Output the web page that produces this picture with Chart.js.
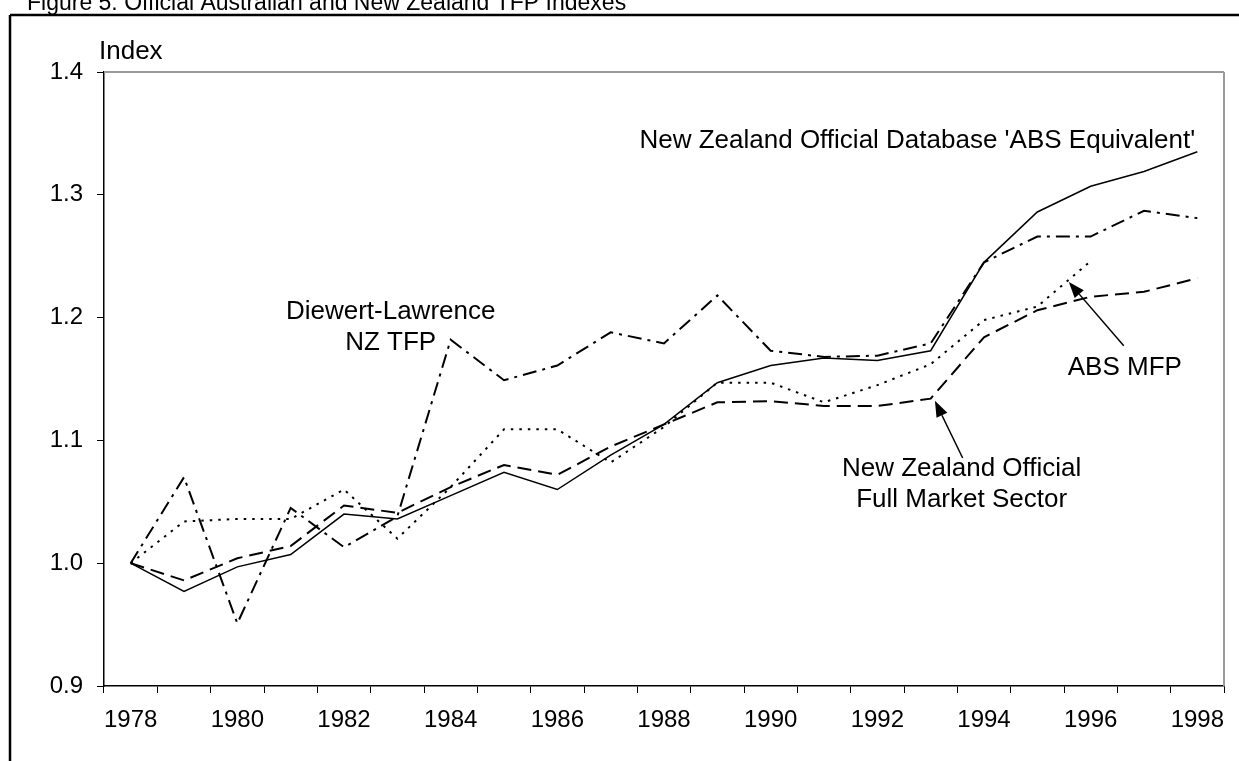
<!DOCTYPE html>
<html>
<head>
<meta charset="utf-8">
<script src="https://cdn.jsdelivr.net/npm/chart.js@4"></script>
<style>
  html, body { margin: 0; padding: 0; background: #fff; }
  canvas { display: block; }
</style>
</head>
<body>
<canvas id="tfpChart" width="1239" height="761"></canvas>
<script>
// years on the x axis
var years = ["1978", "1979", "1980", "1981", "1982", "1983", "1984", "1985", "1986", "1987", "1988",
             "1989", "1990", "1991", "1992", "1993", "1994", "1995", "1996", "1997", "1998"];

// New Zealand Official Database 'ABS Equivalent' (solid)
var nzAbsEquiv = [1.000, 0.977, 0.997, 1.007, 1.040, 1.036, 1.055, 1.074, 1.060, 1.088, 1.113,
                  1.147, 1.161, 1.167, 1.165, 1.173, 1.245, 1.286, 1.307, 1.319, 1.335];

// Diewert-Lawrence NZ TFP (dash-dot)
var dlNzTfp = [1.000, 1.070, 0.951, 1.045, 1.013, 1.038, 1.182, 1.149, 1.161, 1.188, 1.179,
               1.218, 1.173, 1.168, 1.169, 1.179, 1.245, 1.266, 1.266, 1.287, 1.281];

// ABS MFP (dotted, stops at 1996)
var absMfp = [1.000, 1.034, 1.036, 1.036, 1.060, 1.020, 1.062, 1.109, 1.109, 1.082, 1.111,
              1.147, 1.147, 1.131, 1.145, 1.162, 1.198, 1.209, 1.246, null, null];

// New Zealand Official Full Market Sector (dashed)
var nzFullMarket = [1.000, 0.986, 1.004, 1.014, 1.047, 1.041, 1.062, 1.080, 1.072, 1.095, 1.113,
                    1.131, 1.132, 1.128, 1.128, 1.134, 1.184, 1.206, 1.217, 1.221, 1.232];

var yTicks = [0.9, 1.0, 1.1, 1.2, 1.3, 1.4];

var FONT = '"Liberation Sans", Arial, sans-serif';

// text labels, anchored in data space (category index, value) at the first line's centre
var notes = [
    { lines: ["New Zealand Official Database 'ABS Equivalent'"], x: 14.75, y: 1.344 },
    { lines: ["Diewert-Lawrence", "NZ TFP"], x: 4.875, y: 1.205 },
    { lines: ["ABS MFP"], x: 18.64, y: 1.159 },
    { lines: ["New Zealand Official", "Full Market Sector"], x: 15.58, y: 1.0767 }
];
var arrows = [
    { from: [18.62, 1.177], to: [17.59, 1.229] },
    { from: [15.60, 1.0857], to: [15.08, 1.1322] }
];

function line(ctx, x1, y1, x2, y2) {
    ctx.beginPath();
    ctx.moveTo(x1, y1);
    ctx.lineTo(x2, y2);
    ctx.stroke();
}

var decorations = {
    id: 'decorations',
    afterDraw: function (chart) {
        var ctx = chart.ctx;
        var area = chart.chartArea;
        var xs = chart.scales.x, ys = chart.scales.y;
        ctx.save();

        // plot area border (top + right), grey
        ctx.strokeStyle = '#9a9a9a';
        ctx.lineWidth = 2;
        line(ctx, area.left, area.top, area.right, area.top);
        line(ctx, area.right, area.top, area.right, area.bottom);

        // outer frame
        ctx.strokeStyle = '#000';
        ctx.lineWidth = 2.5;
        line(ctx, 10, 15, chart.width + 5, 15);
        line(ctx, 10, 15, 10, chart.height + 5);

        // title (cut at top like the original)
        ctx.fillStyle = '#000';
        ctx.font = '23px ' + FONT;
        ctx.textAlign = 'left';
        ctx.textBaseline = 'alphabetic';
        ctx.fillText('Figure 5: Official Australian and New Zealand TFP Indexes', 27, 10);

        // axis title
        ctx.font = '26px ' + FONT;
        ctx.textBaseline = 'middle';
        ctx.fillText('Index', area.left - 5, 52);

        // annotations
        ctx.textAlign = 'center';
        notes.forEach(function (n) {
            var px = xs.getPixelForValue(n.x);
            var py = ys.getPixelForValue(n.y);
            n.lines.forEach(function (t, i) {
                ctx.fillText(t, px, py + i * 31);
            });
        });

        // arrows
        ctx.lineWidth = 1.5;
        arrows.forEach(function (a) {
            var x1 = xs.getPixelForValue(a.from[0]), y1 = ys.getPixelForValue(a.from[1]);
            var x2 = xs.getPixelForValue(a.to[0]), y2 = ys.getPixelForValue(a.to[1]);
            var ang = Math.atan2(y2 - y1, x2 - x1);
            var len = 16, half = 6;
            var bx = x2 - len * Math.cos(ang), by = y2 - len * Math.sin(ang);
            line(ctx, x1, y1, bx, by);
            ctx.beginPath();
            ctx.moveTo(x2, y2);
            ctx.lineTo(bx + half * Math.sin(ang), by - half * Math.cos(ang));
            ctx.lineTo(bx - half * Math.sin(ang), by + half * Math.cos(ang));
            ctx.closePath();
            ctx.fill();
        });

        ctx.restore();
    }
};

function series(data, dash, width) {
    return {
        data: data,
        borderColor: '#000',
        borderWidth: width,
        borderDash: dash,
        pointRadius: 0,
        fill: false,
        tension: 0,
        spanGaps: false
    };
}

new Chart(document.getElementById('tfpChart'), {
    type: 'line',
    data: {
        labels: years,
        datasets: [
            series(nzAbsEquiv, [], 1.5),
            series(dlNzTfp, [14, 6, 3, 6], 2),
            series(absMfp, [2.5, 6], 2),
            series(nzFullMarket, [14, 7], 2)
        ]
    },
    options: {
        responsive: false,
        animation: false,
        devicePixelRatio: 1,
        layout: { padding: { top: 72, right: 15, left: 0, bottom: 0 } },
        plugins: {
            legend: { display: false },
            title: { display: false },
            tooltip: { enabled: false }
        },
        scales: {
            x: {
                type: 'category',
                offset: true,
                grid: { offset: true, drawOnChartArea: false, tickLength: 7, color: '#000', tickWidth: 1 },
                border: { color: '#000', width: 1.5 },
                ticks: {
                    autoSkip: false,
                    maxRotation: 0,
                    padding: 13,
                    color: '#000',
                    font: { family: FONT, size: 24 },
                    callback: function (v, i) { return i % 2 === 0 ? years[i] : ''; }
                },
                afterFit: function (s) { s.height = 75; }
            },
            y: {
                min: 0.9,
                max: 1.4,
                afterBuildTicks: function (s) { s.ticks = yTicks.map(function (v) { return { value: v }; }); },
                grid: { drawOnChartArea: false, tickLength: 7, color: '#000', tickWidth: 1 },
                border: { color: '#000', width: 1.5 },
                ticks: {
                    padding: 14,
                    color: '#000',
                    font: { family: FONT, size: 24 },
                    callback: function (v) { return Number(v).toFixed(1); }
                },
                afterFit: function (s) { s.width = 104; }
            }
        }
    },
    plugins: [decorations]
});
</script>
</body>
</html>
